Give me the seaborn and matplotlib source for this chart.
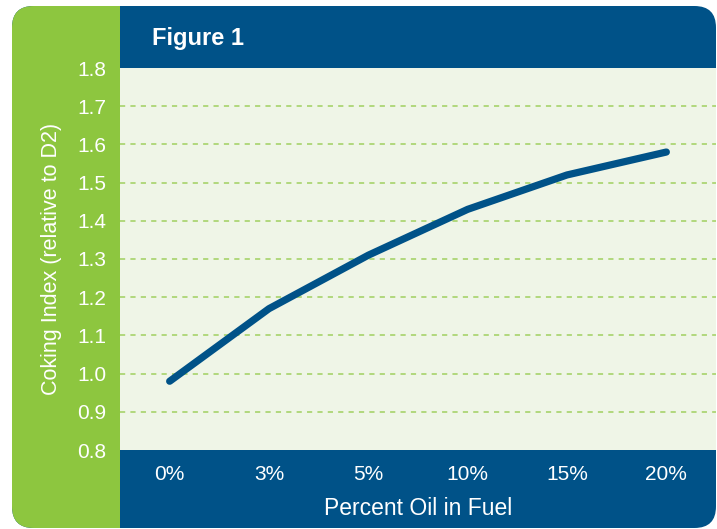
import matplotlib
matplotlib.use('Agg')
import matplotlib.pyplot as plt
from matplotlib.patches import FancyBboxPatch, Rectangle
import pandas as pd
import seaborn as sns

# Data
oil_pct = ['0%', '3%', '5%', '10%', '15%', '20%']
coking_index = [0.98, 1.17, 1.31, 1.43, 1.52, 1.58]
y_ticks = [0.8, 0.9, 1.0, 1.1, 1.2, 1.3, 1.4, 1.5, 1.6, 1.7, 1.8]

df = pd.DataFrame({'pct': oil_pct, 'index': coking_index})

BLUE = '#005288'
GREEN = '#8dc63f'
PLOT_BG = '#eff5e7'

sns.set_style('white')
plt.rcParams['font.family'] = ['Liberation Sans Narrow', 'Liberation Sans', 'DejaVu Sans']

W, H = 717, 529
fig = plt.figure(figsize=(W / 100, H / 100), dpi=100)


def fx(px):
    return px / W


def fy(py):
    return 1 - py / H


# Background panels (blue frame, green left strip) - behind the axes
fig.patches.append(FancyBboxPatch((fx(12), fy(528)), fx(716) - fx(12), fy(6) - fy(528),
                                  boxstyle='round,pad=0,rounding_size=0.03',
                                  transform=fig.transFigure, facecolor=BLUE, edgecolor='none',
                                  mutation_aspect=W / H, zorder=-3))
fig.patches.append(FancyBboxPatch((fx(12), fy(528)), fx(220) - fx(12), fy(6) - fy(528),
                                  boxstyle='round,pad=0,rounding_size=0.03',
                                  transform=fig.transFigure, facecolor=GREEN, edgecolor='none',
                                  mutation_aspect=W / H, zorder=-2))
fig.patches.append(Rectangle((fx(120), fy(528)), fx(300) - fx(120), fy(6) - fy(528),
                             transform=fig.transFigure, facecolor=BLUE, edgecolor='none', zorder=-1))

ax = fig.add_axes([fx(120), fy(450), fx(716) - fx(120), fy(68) - fy(450)])
ax.set_facecolor(PLOT_BG)

sns.lineplot(data=df, x='pct', y='index', sort=False, ax=ax, color=BLUE,
             linewidth=5.2, solid_capstyle='round', solid_joinstyle='round', zorder=3)

ax.set_xlim(-0.5, 5.5)
ax.set_ylim(0.8, 1.8)
ax.set_yticks(y_ticks)
ax.set_yticklabels([f'{v:.1f}' for v in y_ticks])

for v in y_ticks[1:-1]:
    ax.axhline(v, color=GREEN, alpha=0.8, linewidth=1.1, linestyle=(0, (3.4, 3.4)), zorder=1)

for s in ax.spines.values():
    s.set_visible(False)

ax.tick_params(axis='y', colors=GREEN, labelcolor='white', labelsize=15,
               direction='in', length=3, width=1.2, pad=10)
ax.tick_params(axis='x', length=0, labelcolor='white', labelsize=15, pad=11)
ax.set_xticks([0.5, 1.5, 2.5, 3.5, 4.5], minor=True)
ax.tick_params(axis='x', which='minor', length=4, width=1.2, color='#8fb0a0', direction='out')

ax.set_xlabel('Percent Oil in Fuel', color='white', fontsize=16.5, labelpad=9)
ax.set_ylabel('Coking Index (relative to D2)', color='white', fontsize=15.5, labelpad=11)

fig.text(fx(152), fy(38), 'Figure 1', color='white', fontsize=17, fontweight='bold',
         ha='left', va='center')

fig.savefig('out.png', dpi=100)
